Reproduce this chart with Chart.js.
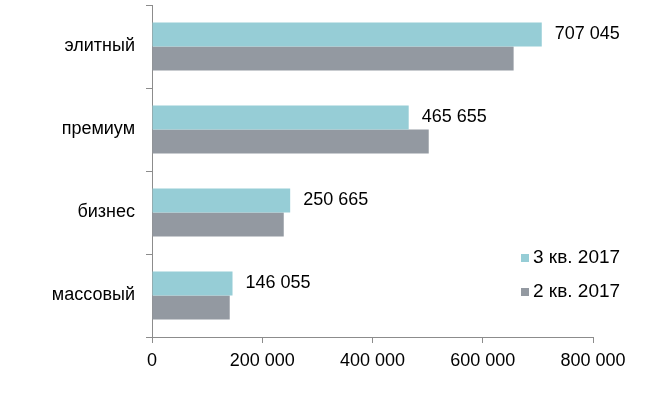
<!DOCTYPE html>
<html>
<head>
<meta charset="utf-8">
<script src="https://cdn.jsdelivr.net/npm/chart.js@4/dist/chart.umd.min.js"></script>
<style>
  html, body { margin: 0; padding: 0; background: #fff; }
  #wrap { width: 654px; height: 398px; }
</style>
</head>
<body>
<div id="wrap"><canvas id="barChart"></canvas></div>
<script>
// data
var categories = ['элитный', 'премиум', 'бизнес', 'массовый'];
var seriesNames = ['3 кв. 2017', '2 кв. 2017'];
var q3Values = [707045, 465655, 250665, 146055];
var q2Values = [656000, 502000, 239000, 141000];
var xTicks = [0, 200000, 400000, 600000, 800000];

var colors = ['#96cdd6', '#9399a1'];
var axisColor = '#8c8c8c';
var fontFamily = '"Liberation Sans", Arial, sans-serif';

function fmt(v) {
    return String(v).replace(/\B(?=(\d{3})+(?!\d))/g, ' ');
}

// value labels for the 3rd quarter bars
var valueLabels = {
    id: 'valueLabels',
    afterDatasetsDraw: function(chart) {
        var ctx = chart.ctx;
        var meta = chart.getDatasetMeta(0);
        ctx.save();
        ctx.font = '18px ' + fontFamily;
        ctx.fillStyle = '#000';
        ctx.textBaseline = 'middle';
        ctx.textAlign = 'left';
        meta.data.forEach(function(bar, i) {
            ctx.fillText(fmt(chart.data.datasets[0].data[i]), bar.x + 13, bar.y);
        });
        ctx.restore();
    }
};

// legend in the lower right corner of the plot
var cornerLegend = {
    id: 'cornerLegend',
    afterDraw: function(chart) {
        var ctx = chart.ctx;
        ctx.save();
        ctx.font = '19px ' + fontFamily;
        ctx.textBaseline = 'middle';
        ctx.textAlign = 'left';
        chart.data.datasets.forEach(function(ds, i) {
            var y = 258 + i * 34;
            ctx.fillStyle = ds.backgroundColor;
            ctx.fillRect(521, y - 4, 8, 8);
            ctx.fillStyle = '#000';
            ctx.fillText(ds.label, 533, y);
        });
        ctx.restore();
    }
};

new Chart(document.getElementById('barChart').getContext('2d'), {
    type: 'bar',
    data: {
        labels: categories,
        datasets: [{
            label: seriesNames[0],
            data: q3Values,
            backgroundColor: colors[0],
            categoryPercentage: 0.58,
            barPercentage: 1
        }, {
            label: seriesNames[1],
            data: q2Values,
            backgroundColor: colors[1],
            categoryPercentage: 0.58,
            barPercentage: 1
        }]
    },
    options: {
        indexAxis: 'y',
        responsive: true,
        maintainAspectRatio: false,
        animation: false,
        layout: { padding: { top: 5, right: 61, left: 0, bottom: 0 } },
        plugins: {
            legend: { display: false },
            tooltip: { enabled: false }
        },
        scales: {
            x: {
                min: 0,
                max: 800000,
                afterBuildTicks: function(axis) {
                    axis.ticks = xTicks.map(function(v) { return { value: v }; });
                },
                afterFit: function(axis) {
                    axis.height = 61;
                    axis.paddingLeft = 0;
                    axis.paddingRight = 0;
                },
                border: { display: true, color: axisColor, width: 1 },
                grid: { drawOnChartArea: false, drawTicks: true, tickLength: 6, color: axisColor },
                ticks: {
                    color: '#000',
                    font: { family: fontFamily, size: 18 },
                    padding: 7,
                    maxRotation: 0,
                    callback: function(v) { return fmt(v); }
                }
            },
            y: {
                afterFit: function(axis) {
                    axis.width = 152;
                    axis.paddingTop = 0;
                    axis.paddingBottom = 0;
                },
                border: { display: true, color: axisColor, width: 1 },
                grid: { offset: true, drawOnChartArea: false, drawTicks: true, tickLength: 6, color: axisColor },
                ticks: {
                    color: '#000',
                    font: { family: fontFamily, size: 18 },
                    padding: 11
                }
            }
        }
    },
    plugins: [valueLabels, cornerLegend]
});
</script>
</body>
</html>
